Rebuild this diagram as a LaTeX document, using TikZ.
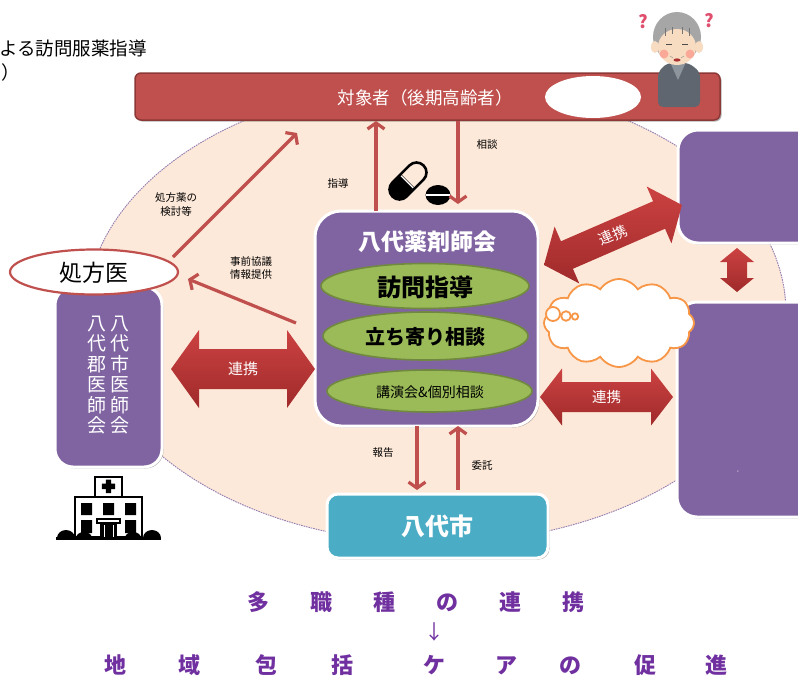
\documentclass[tikz,border=0pt]{standalone}
\usepackage{fontspec}
\setmainfont{Noto Sans CJK JP}
\usetikzlibrary{arrows.meta,calc,shapes.geometric,shapes.symbols,shadows}

\definecolor{barred}{HTML}{C0504D}
\definecolor{barredD}{HTML}{8C3836}
\definecolor{peach}{HTML}{FDE9D9}
\definecolor{purp}{HTML}{8064A2}
\definecolor{grn}{HTML}{9BBB59}
\definecolor{grnD}{HTML}{71893F}
\definecolor{cyanbox}{HTML}{4BACC6}
\definecolor{cloudor}{HTML}{F79646}
\definecolor{slogan}{HTML}{7030A0}
\definecolor{arrtop}{HTML}{CC4242}
\definecolor{arrbot}{HTML}{A02A2A}
\definecolor{jacket}{HTML}{5F6670}
\definecolor{shirt}{HTML}{8E949C}
\definecolor{hair}{HTML}{A6A6A6}
\definecolor{skin}{HTML}{F8DCC2}
\definecolor{qmark}{HTML}{E0506E}

% broad two-headed arrow between two points:
% #1 tip A, #2 tip B, #3 shaft half width, #4 head half width, #5 head length
\newcommand\fatarrow[5]{%
  \path[top color=arrtop, bottom color=arrbot]
    (#1) -- ($(#1)!#5!(#2)!#4!90:(#2)$) -- ($(#1)!#5!(#2)!#3!90:(#2)$)
    -- ($(#2)!#5!(#1)!#3!-90:(#1)$) -- ($(#2)!#5!(#1)!#4!-90:(#1)$)
    -- (#2)
    -- ($(#2)!#5!(#1)!#4!90:(#1)$) -- ($(#2)!#5!(#1)!#3!90:(#1)$)
    -- ($(#1)!#5!(#2)!#3!-90:(#2)$) -- ($(#1)!#5!(#2)!#4!-90:(#2)$)
    -- cycle;}

\begin{document}
\begin{tikzpicture}[x=1pt,y=-1pt,
  fs/.style={font=\fontsize{#1}{#1}\selectfont},
  fsb/.style={font=\fontsize{#1}{#1}\selectfont\bfseries},
  softshadow/.style={drop shadow={shadow xshift=1.5pt,shadow yshift=-1.5pt,opacity=0.3,fill=black}},
  purplebox/.style={rectangle, fill=purp, draw=white, line width=3, rounded corners=#1,
                    inner sep=0, outer sep=0, softshadow},
  greenoval/.style={ellipse, fill=grn, draw=grnD, line width=1.6, inner sep=0, outer sep=0},
  thinarrow/.style={draw=barred, line width=3.2, -{Straight Barb[length=6pt,width=17pt]}},
  smalllabel/.style={fs=10.5, inner sep=0, align=center},
  armlabel/.style={fs=14.5, text=white, inner sep=0},
  bubble/.style={draw=cloudor, line width=1.8, fill=white}]

\useasboundingbox (0,0) rectangle (798,678);
\clip (0,0) rectangle (798,678);

% heading fragment in the upper left corner
\node[fs=18.5, anchor=west, inner sep=0] (heading) at (-1,48) {よる訪問服薬指導};
\node[fs=18.5, anchor=west, inner sep=0] (headingclose) at (1,72) {）};

% shared area of the network
\node[ellipse, fill=peach, draw=purp!85, line width=0.9, dash pattern=on 1.6pt off 0.9pt,
      minimum width=700, minimum height=460, inner sep=0] (area) at (436,313) {};

% patients bar
\node[rectangle, draw=barredD, fill=barred, line width=1.5, rounded corners=6,
      minimum width=585, minimum height=47, inner sep=0, outer sep=0, anchor=north west,
      softshadow] (bar) at (135,73) {};
\node[fs=17.5, text=white, inner sep=0] (barlabel) at (425,97.5) {対象者（後期高齢者）};
\node[ellipse, fill=white, minimum width=96, minimum height=42, inner sep=0] (blank) at (593,97) {};

% elderly person
\fill[jacket, rounded corners=5] (658,107) -- (658,72) -- (667,63) -- (689,63) -- (700,72) -- (700,107) -- cycle;
\fill[shirt] (670,62) -- (686,62) -- (678,80) -- cycle;
\fill[hair] (677,37) ellipse (24 and 25);
\fill[skin] (655,47) ellipse (4 and 6);
\fill[skin] (699,47) ellipse (4 and 6);
\fill[skin] (677,47) ellipse (19 and 18);
\draw[hair!70!black, line width=0.6] (665,28) -- (665,36) (672,27) -- (672,34) (682,27) -- (682,34) (689,28) -- (689,36);
\draw[black!70, line width=0.8] (666,44) -- (672,44) (682,44) -- (688,44);
\fill[red!70, opacity=0.35] (664,54) circle (4.5) (690,54) circle (4.5);
\draw[black!40, line width=0.5] (670,56) -- (673,58) (684,56) -- (681,58);
\fill[red!60!black!80] (677,60) ellipse (3.5 and 1.6);
\node[fsb=18, text=qmark, inner sep=0] (q1) at (643,22) {?};
\node[fsb=18, text=qmark, inner sep=0] (q2) at (709,21) {?};

% medicine icon
\begin{scope}[shift={(408,181)}, rotate=45]
  \begin{scope}
    \clip (-40,-15) rectangle (0,15);
    \fill[black, rounded corners=10] (-22,-10) rectangle (22,10);
  \end{scope}
  \draw[black, line width=2.6, rounded corners=10] (-22,-10) rectangle (22,10);
  \draw[white, line width=1.2] (-1.2,-8.5) -- (-1.2,8.5);
\end{scope}
\fill[black] (438,195) ellipse (12.5 and 10);
\fill[white] (426,193.6) rectangle (450,196.4);

% left medical association box
\node[purplebox=18, minimum width=107, minimum height=180] (medassoc) at (108.5,377) {};
\node[text=white, align=center, inner sep=0, font=\fontsize{19}{20.5}\selectfont] (medcity) at (120,375) {八\\代\\市\\医\\師\\会};
\node[text=white, align=center, inner sep=0, font=\fontsize{19}{20.5}\selectfont] (medgun) at (97,375) {八\\代\\郡\\医\\師\\会};

% prescribing doctor
\node[ellipse, fill=white, draw=barred, line width=2.2, minimum width=168, minimum height=45,
      inner sep=0, outer sep=0] (shoho) at (94,272) {};
\node[fs=23, inner sep=0] (shoholabel) at (94,273) {処方医};

% hospital icon
\fill[black] (57,538) arc[start angle=180, end angle=360, x radius=9, y radius=8];
\fill[black] (143,538) arc[start angle=180, end angle=360, x radius=9, y radius=8];
\draw[black, line width=2.6, fill=white] (75,497) rectangle (142,537);
\draw[black, line width=2.6, fill=white] (95,477) rectangle (122,497);
\fill[black] (105.8,479.5) rectangle (111.2,493) (101.8,483.5) rectangle (115.2,489);
\fill[black] (81,503) rectangle (92,515) (103,503) rectangle (114,515) (125,503) rectangle (136,515);
\fill[black] (81,520) rectangle (92,533) (125,520) rectangle (136,533);
\draw[black, line width=1.2] (97,519) rectangle (120,523);
\fill[black] (100,524) rectangle (117,537);
\draw[white, line width=0.8] (104,525) -- (104,537) (113,525) -- (113,537);
\fill[black] (76,538) arc[start angle=180, end angle=360, x radius=8, y radius=6];
\fill[black] (125,538) arc[start angle=180, end angle=360, x radius=8, y radius=6];
\fill[black] (56,537) rectangle (161,540);

% pharmacists' association
\node[purplebox=26, minimum width=223, minimum height=215] (yaku) at (426.5,318.5) {};
\node[fsb=23, text=white, inner sep=0] (yakulabel) at (427,242) {八代薬剤師会};
\node[greenoval, minimum width=208, minimum height=45] (homon) at (425,286) {};
\node[fsb=24, inner sep=0] (homonlabel) at (425,287) {訪問指導};
\node[greenoval, minimum width=205, minimum height=48] (tachiyori) at (425.5,336) {};
\node[fsb=20, inner sep=0] (tachiyorilabel) at (425,337) {立ち寄り相談};
\node[greenoval, minimum width=205, minimum height=42] (koen) at (429.5,391) {};
\node[fs=14, inner sep=0] (koenlabel) at (430,392) {講演会\&個別相談};

% city office
\node[rectangle, fill=cyanbox, draw=white, line width=3, rounded corners=11,
      minimum width=221, minimum height=64, inner sep=0, outer sep=0, softshadow] (city) at (437.5,526) {};
\node[fsb=24, text=white, inner sep=0] (citylabel) at (437,526) {八代市};

% right-hand partner boxes
\node[purplebox=20, minimum width=170, minimum height=113, anchor=north west] (partnerA) at (678,130) {};
\node[purplebox=20, minimum width=170, minimum height=215, anchor=north west] (partnerB) at (677,302) {};
\node[fs=6, text=white, inner sep=0] (tick) at (738,473) {'};

% thought cloud
\node[cloud, cloud puffs=12, cloud puff arc=115, aspect=1.7, bubble,
      minimum width=150, minimum height=88, inner sep=0] (cloud) at (619,323) {};
\draw[bubble] (553,314) circle (7);
\draw[bubble] (566,316) circle (4.8);
\draw[bubble] (575,316.5) circle (3.2);

% thin connectors
\coordinate (up1) at ([xshift=-50.5pt]yaku.north);
\draw[thinarrow] (up1) -- ([yshift=-1pt]up1 |- bar.south);
\coordinate (dn1) at ([xshift=31.5pt,yshift=7pt]yaku.north);
\draw[thinarrow] ([yshift=-1pt]dn1 |- bar.south) -- (dn1);
\coordinate (k1) at ([shift={(79,-15)}]shoho.center);
\coordinate (k2) at (297,133);
\draw[thinarrow] (k1) -- (k2);
\coordinate (j1) at ([shift={(-19,4.5)}]yaku.west);
\coordinate (j2) at ([shift={(10,7)}]shoho.east);
\draw[thinarrow] (j1) -- (j2);
\coordinate (rp1) at ([xshift=-9.5pt]yaku.south);
\coordinate (rp2) at ([xshift=-20.5pt,yshift=4pt]city.north);
\draw[thinarrow] (rp1) -- (rp2);
\coordinate (it1) at ([xshift=20.5pt,yshift=4pt]city.north);
\coordinate (it2) at ([xshift=31.5pt]yaku.south);
\draw[thinarrow] (it1) -- (it2);

\node[smalllabel] (lbshido) at (338,183) {指導};
\node[smalllabel] (lbsodan) at (487,145) {相談};
\node[smalllabel, font=\fontsize{10.5}{14}\selectfont] (lbkento) at (176,205) {処方薬の\\検討等};
\node[smalllabel, font=\fontsize{10.5}{13.5}\selectfont] (lbjizen) at (251,268) {事前協議\\情報提供};
\node[smalllabel] (lbhokoku) at (383,453) {報告};
\node[smalllabel] (lbitaku) at (482,466) {委託};

% broad cooperation arrows
\coordinate (la1) at ([xshift=9pt]medassoc.east |- 0,369);
\coordinate (la2) at (yaku.west |- 0,369);
\fatarrow{la1}{la2}{20pt}{39pt}{28pt}
\node[armlabel, fs=15] (lklabel) at ($(la1)!.5!(la2)$) {連携};

\coordinate (ra1) at ([xshift=2pt]yaku.east |- 0,397);
\coordinate (ra2) at ([xshift=-4pt]partnerB.west |- 0,397);
\fatarrow{ra1}{ra2}{15pt}{28.5pt}{22pt}
\node[armlabel] (rklabel) at ($(ra1)!.5!(ra2)$) {連携};

\coordinate (da1) at (544,265);
\coordinate (da2) at (682,205);
\fatarrow{da1}{da2}{15pt}{31pt}{25pt}
\node[armlabel, rotate=23.5] (dklabel) at ($(da1)!.5!(da2)$) {連携};

\coordinate (va1) at ([yshift=-5pt]partnerA.south -| 737,0);
\coordinate (va2) at ([yshift=10pt]partnerB.north -| 737,0);
\fatarrow{va1}{va2}{10pt}{17pt}{14pt}

% closing statement
\node[fsb=22, text=slogan, anchor=west, inner sep=0] (slogan1) at (247,602)
  {多\hspace{41pt}職\hspace{41pt}種\hspace{41pt}の\hspace{41pt}連\hspace{41pt}携};
\node[fs=20, text=slogan, inner sep=0] (sloganarrow) at (434,632) {↓};
\node[fsb=22, text=slogan, anchor=west, inner sep=0] (slogan2) at (104,665)
  {地\hspace{52pt}域\hspace{55pt}包\hspace{54pt}括\hspace{70pt}ケ\hspace{50pt}ア\hspace{42pt}の\hspace{53pt}促\hspace{49pt}進};

\end{tikzpicture}
\end{document}
